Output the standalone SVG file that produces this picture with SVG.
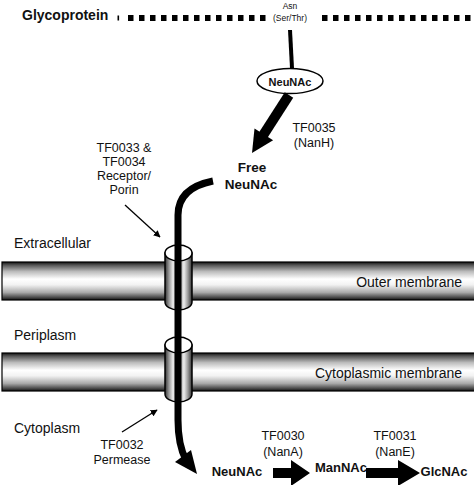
<svg xmlns="http://www.w3.org/2000/svg" width="474" height="485" viewBox="0 0 474 485">
<defs>
<style>
text{font-family:"Liberation Sans",Arial,sans-serif;fill:#111}
.b{font-weight:bold}
.lab{font-size:14px}
.tf{font-size:12.5px;text-anchor:middle}
.thick{fill:none;stroke:#000;stroke-width:7;stroke-linecap:butt}
.thin{stroke:#000;stroke-width:1.3;fill:none}
</style>
<linearGradient id="mem" x1="0" y1="0" x2="0" y2="1">
<stop offset="0" stop-color="#111"/>
<stop offset="0.08" stop-color="#555"/>
<stop offset="0.25" stop-color="#bbb"/>
<stop offset="0.45" stop-color="#fff"/>
<stop offset="0.6" stop-color="#f2f2f2"/>
<stop offset="0.8" stop-color="#aaa"/>
<stop offset="0.94" stop-color="#444"/>
<stop offset="1" stop-color="#111"/>
</linearGradient>
<linearGradient id="cyl" x1="0" y1="0" x2="1" y2="0">
<stop offset="0" stop-color="#333"/>
<stop offset="0.15" stop-color="#999"/>
<stop offset="0.3" stop-color="#eee"/>
<stop offset="0.5" stop-color="#777"/>
<stop offset="0.7" stop-color="#eee"/>
<stop offset="0.85" stop-color="#999"/>
<stop offset="1" stop-color="#333"/>
</linearGradient>
<marker id="ah" viewBox="0 0 10 10" refX="9" refY="5" markerWidth="7" markerHeight="7" orient="auto" markerUnits="userSpaceOnUse">
<path d="M0 0 L10 5 L0 10 Z" fill="#000"/>
</marker>
</defs>

<g id="glycoprotein">
<text x="22" y="20" class="b" font-size="14">Glycoprotein</text>
<rect x="117.5" y="15.5" width="1.6" height="5" fill="#000"/>
<line x1="128" y1="18" x2="265.5" y2="18" stroke="#000" stroke-width="6" stroke-dasharray="5.5 5.5"/>
<line x1="322" y1="18" x2="474" y2="18" stroke="#000" stroke-width="6" stroke-dasharray="5.5 5.5"/>
<text x="290" y="9" font-size="8.5" text-anchor="middle">Asn</text>
<text x="290" y="21" font-size="8.5" text-anchor="middle">(Ser/Thr)</text>
</g>

<g id="outer-membrane">
<rect x="2" y="262" width="480" height="38" fill="url(#mem)" stroke="#000" stroke-width="1.2"/>
<text x="462" y="287" class="lab" text-anchor="end">Outer membrane</text>
</g>
<g id="cytoplasmic-membrane">
<rect x="2" y="353" width="480" height="38" fill="url(#mem)" stroke="#000" stroke-width="1.2"/>
<text x="462" y="378" class="lab" text-anchor="end">Cytoplasmic membrane</text>
</g>

<g id="porin">
<path d="M165 253 L165 302 A13.5 8 0 0 0 192 302 L192 253 Z" fill="url(#cyl)" stroke="#000" stroke-width="1.5"/>
<ellipse cx="178.5" cy="253" rx="13.5" ry="8" fill="#fff" stroke="#000" stroke-width="1.5"/>
</g>
<g id="permease">
<path d="M165 345 L165 394 A13.5 8 0 0 0 192 394 L192 345 Z" fill="url(#cyl)" stroke="#000" stroke-width="1.5"/>
<ellipse cx="178.5" cy="345" rx="13.5" ry="8" fill="#fff" stroke="#000" stroke-width="1.5"/>
</g>

<g id="neunac-bound">
<ellipse cx="290" cy="81" rx="33" ry="12.5" fill="#fff" stroke="#000" stroke-width="1.5"/>
<text x="290" y="85.5" class="b" font-size="11" text-anchor="middle">NeuNAc</text>
</g>

<g id="free-neunac">
<text x="252" y="172" class="b" font-size="13.5" text-anchor="middle">Free</text>
<text x="251" y="189" class="b" font-size="13.5" text-anchor="middle">NeuNAc</text>
</g>

<g id="region-labels">
<text x="14" y="248" class="lab">Extracellular</text>
<text x="14" y="340" class="lab">Periplasm</text>
<text x="14" y="433" class="lab">Cytoplasm</text>
</g>

<g id="tf0035">
<text x="314" y="132" class="tf">TF0035</text>
<text x="314" y="147" class="tf">(NanH)</text>
</g>
<g id="tf0033">
<text x="124" y="152" class="tf">TF0033 &amp;</text>
<text x="124" y="166" class="tf">TF0034</text>
<text x="124" y="180" class="tf">Receptor/</text>
<text x="124" y="194" class="tf">Porin</text>
</g>
<g id="tf0032">
<text x="122" y="449" class="tf">TF0032</text>
<text x="122" y="464" class="tf">Permease</text>
</g>
<g id="tf0030">
<text x="283" y="440" class="tf">TF0030</text>
<text x="283" y="456" class="tf">(NanA)</text>
</g>
<g id="tf0031">
<text x="395" y="440" class="tf">TF0031</text>
<text x="395" y="456" class="tf">(NanE)</text>
</g>

<g id="neunac-cyto">
<text x="237" y="476" class="b" font-size="13" text-anchor="middle">NeuNAc</text>
</g>
<g id="mannac">
<text x="341" y="472" class="b" font-size="13" text-anchor="middle">ManNAc</text>
</g>
<g id="glcnac">
<text x="444" y="476" class="b" font-size="13" text-anchor="middle">GlcNAc</text>
</g>

<g id="connectors">
<line x1="290" y1="30" x2="292" y2="68" stroke="#000" stroke-width="4"/>
<path d="M289 95 L262 137" stroke="#000" stroke-width="10" fill="none"/>
<polygon points="252,153 254.5,128.5 273.1,140.3" fill="#000"/>
<path class="thick" d="M213 181 Q178 188 178 215 L178 420 Q178 445 186 460"/>
<polygon points="175,462 191,450 197,474" fill="#000"/>
<line x1="125" y1="205" x2="160" y2="237" class="thin" marker-end="url(#ah)"/>
<line x1="122" y1="432" x2="157" y2="410" class="thin" marker-end="url(#ah)"/>
<polygon points="273,468 291,468 291,460 310,473 291,486 291,478 273,478" fill="#000"/>
<polygon points="366,468 398,468 398,460 420,473 398,486 398,478 366,478" fill="#000"/>
</g>
</svg>
